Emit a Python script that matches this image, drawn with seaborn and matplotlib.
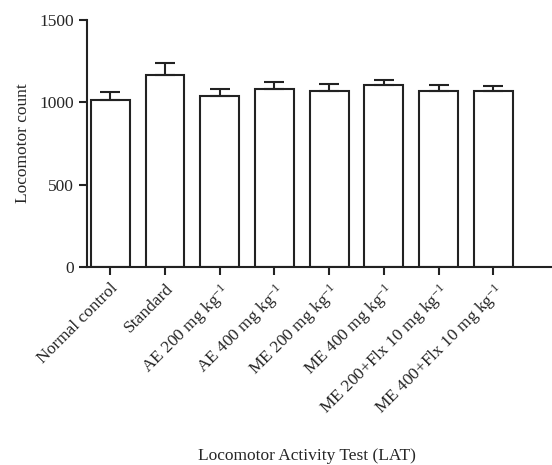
import numpy as np
import pandas as pd
import matplotlib
matplotlib.use("Agg")
import matplotlib.pyplot as plt
import seaborn as sns

groups = [
    "Normal control",
    "Standard",
    "AE 200 mg kg$^{-1}$",
    "AE 400 mg kg$^{-1}$",
    "ME 200 mg kg$^{-1}$",
    "ME 400 mg kg$^{-1}$",
    "ME 200+Flx 10 mg kg$^{-1}$",
    "ME 400+Flx 10 mg kg$^{-1}$",
]
counts = [1012, 1166, 1040, 1079, 1071, 1103, 1071, 1071]
sem = [50, 72, 40, 46, 40, 30, 34, 26]

df = pd.DataFrame({"group": groups, "count": counts})

sns.set_style("ticks")
plt.rcParams["font.family"] = ["Liberation Serif", "DejaVu Serif"]
plt.rcParams["mathtext.fontset"] = "custom"
plt.rcParams["mathtext.rm"] = "Liberation Serif"
plt.rcParams["mathtext.it"] = "Liberation Serif:italic"

fig = plt.figure(figsize=(5.52, 4.65), dpi=100)
ax = fig.add_axes([0.158, 0.426, 0.842, 0.531])

sns.barplot(data=df, x="group", y="count", color="white", edgecolor="#222222",
            linewidth=1.5, width=0.71, errorbar=None, ax=ax)
# only the upper half of the error bar, like the original
ax.errorbar(np.arange(len(groups)), counts, yerr=[np.zeros(len(sem)), sem],
            fmt="none", ecolor="#222222", elinewidth=1.5, capsize=7, capthick=1.5)

ax.set_ylim(0, 1500)
ax.set_yticks([0, 500, 1000, 1500])
ax.set_xlim(-0.42, 8.07)
sns.despine(ax=ax)
for s in ["left", "bottom"]:
    ax.spines[s].set_linewidth(1.5)
    ax.spines[s].set_color("#222222")
ax.tick_params(axis="both", length=6, width=1.5, color="#222222", labelsize=12.5)
plt.setp(ax.get_xticklabels(), rotation=45, ha="right", rotation_mode="anchor")

ax.set_ylabel("Locomotor count", fontsize=12.5, labelpad=6)
ax.set_xlabel("")
fig.text(0.556, 0.003, "Locomotor Activity Test (LAT)", ha="center", va="bottom", fontsize=12.5)

fig.savefig("out.png", dpi=100)
